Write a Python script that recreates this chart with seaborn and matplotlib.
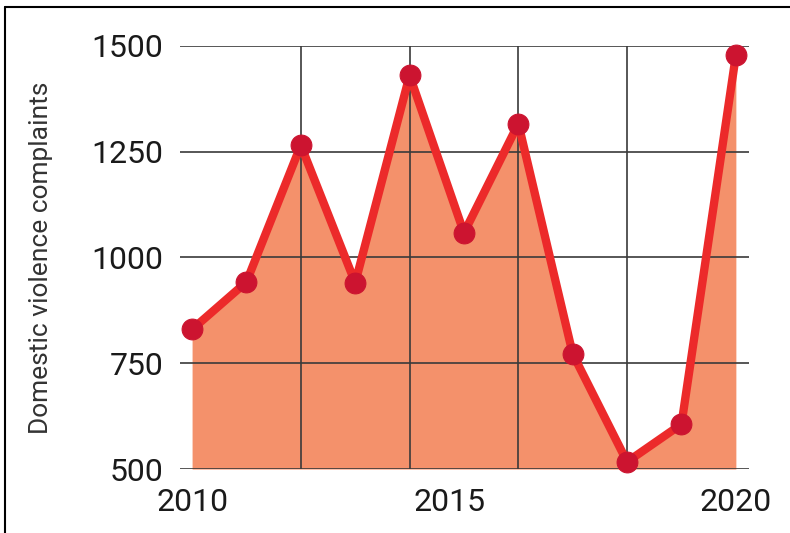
import pandas as pd
import matplotlib.pyplot as plt
import matplotlib.transforms as mtransforms
import seaborn as sns

years = [2010, 2011, 2012, 2013, 2014, 2015, 2016, 2017, 2018, 2019, 2020]
complaints = [830, 942, 1265, 940, 1430, 1058, 1316, 772, 517, 606, 1478]
y_ticks = [500, 750, 1000, 1250, 1500]
x_ticks = [2010, 2015, 2020]
x_grid = [2010, 2012, 2014, 2016, 2018]

df = pd.DataFrame({'year': years, 'complaints': complaints})

sns.set_style("white")
plt.rcParams['font.family'] = ['Roboto', 'DejaVu Sans']

fig = plt.figure(figsize=(7.9, 5.33), dpi=100)
ax = fig.add_axes([0.228, 0.120, 0.720, 0.794])

# Filled area under the line
ax.fill_between(df['year'], df['complaints'], 500, color='#F4916B', linewidth=0, zorder=1)

# Line with markers
sns.lineplot(x='year', y='complaints', data=df, ax=ax, color='#EC2A2A', linewidth=6,
             marker='o', markersize=15, markerfacecolor='#CC1430', markeredgecolor='#CC1430',
             zorder=3, clip_on=False)

ax.set_xlim(2009.78, 2020.24)
ax.set_ylim(500, 1500)
ax.set_yticks(y_ticks)
ax.set_xticks(x_ticks)
ax.set_xticks(x_grid, minor=True)

ax.set_axisbelow('line')
ax.grid(True, axis='y', which='major', color='#3a3a3a', linewidth=1.2)
ax.grid(True, axis='x', which='minor', color='#3a3a3a', linewidth=1.2)
ax.grid(False, axis='x', which='major')

for s in ax.spines.values():
    s.set_visible(False)

ax.tick_params(axis='both', which='both', length=0)
ax.tick_params(axis='y', labelsize=23, pad=12, colors='#1a1a1a')
ax.tick_params(axis='x', labelsize=23, pad=14, colors='#1a1a1a')

# the middle year label sits a little left of its point in the original
mid = ax.get_xticklabels()[1]
mid.set_transform(mid.get_transform() + mtransforms.ScaledTranslation(-0.14, 0, fig.dpi_scale_trans))

ax.set_xlabel('')
ax.set_ylabel('Domestic violence complaints', fontsize=19, color='#333333', labelpad=28)

# Outer frame lines (left and top)
fig.add_artist(plt.Line2D([5 / 790, 5 / 790], [0, 1 - 7 / 533], transform=fig.transFigure,
                          color='black', linewidth=1.5))
fig.add_artist(plt.Line2D([5 / 790, 1], [1 - 7 / 533, 1 - 7 / 533], transform=fig.transFigure,
                          color='black', linewidth=1.5))

plt.savefig('out.png', dpi=100)
